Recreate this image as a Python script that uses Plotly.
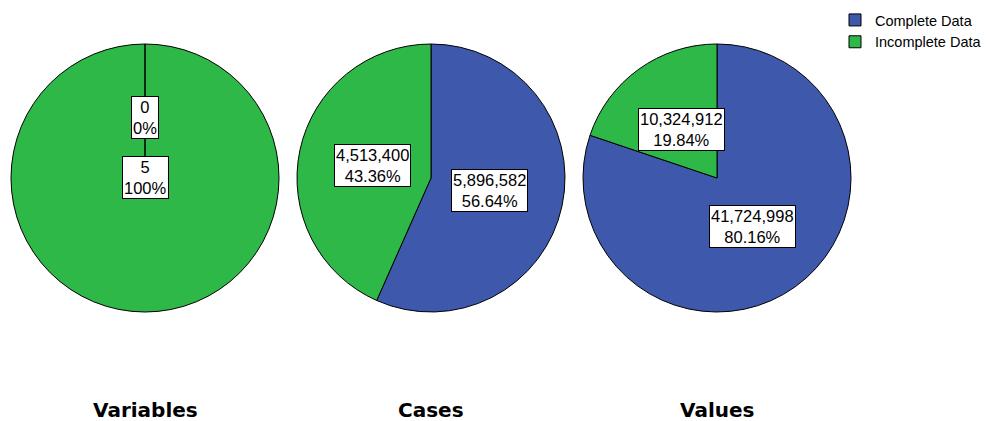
import math
import plotly.graph_objects as go

# ---- data ----
pie_titles = ["Variables", "Cases", "Values"]
categories = ["Complete Data", "Incomplete Data"]
complete_vals = [0, 5896582, 41724998]
incomplete_vals = [5, 4513400, 10324912]

# ---- style ----
W, H = 1001, 421
colors = ["#3E58AC", "#2EB848"]
centers_px = [145, 431, 717]
cy_px = 178
radius_px = 134
label_r = 0.45

fig = go.Figure()

for i, title in enumerate(pie_titles):
    cx = centers_px[i]
    x0, x1 = (cx - radius_px) / W, (cx + radius_px) / W
    y0, y1 = (H - cy_px - radius_px) / H, (H - cy_px + radius_px) / H
    vals = [complete_vals[i], incomplete_vals[i]]
    fig.add_trace(go.Pie(
        labels=categories, values=vals, sort=False, direction="clockwise",
        rotation=0, domain=dict(x=[x0, x1], y=[y0, y1]),
        marker=dict(colors=colors, line=dict(color="black", width=1)),
        textinfo="none", hoverinfo="label+value+percent", showlegend=(i == 0),
    ))
    total = sum(vals)
    start = 0.0
    xc, yc = cx / W, (H - cy_px) / H
    # slice boundary at 12 o'clock for a pie with a zero slice
    if 0 in vals:
        fig.add_shape(type="line", xref="paper", yref="paper",
                      x0=xc, x1=xc, y0=yc, y1=yc + radius_px / H,
                      line=dict(color="black", width=1.5), layer="above")
    for j, v in enumerate(vals):
        frac = v / total
        ang = start + frac * 360 / 2
        start += frac * 360
        if frac >= 0.999:
            dx = dy = 0.0
        else:
            a = math.radians(ang)
            dx = math.sin(a) * radius_px * label_r
            dy = math.cos(a) * radius_px * label_r
        fig.add_annotation(
            x=xc + dx / W, y=yc + dy / H, xref="paper", yref="paper",
            xanchor="center", yanchor="middle",
            text=f"{v:,}<br>{frac*100:.{0 if frac in (0, 1) else 2}f}%",
            showarrow=False, bgcolor="white", bordercolor="black", borderwidth=1,
            borderpad=1, font=dict(family="Liberation Sans, Arial", size=16.5, color="black"),
        )
    fig.add_annotation(
        x=xc, y=(H - 410) / H, xref="paper", yref="paper", text=f"<b>{title}</b>",
        showarrow=False, font=dict(family="DejaVu Sans", size=20, color="black"),
        xanchor="center", yanchor="middle",
    )

fig.update_layout(
    width=W, height=H, margin=dict(l=0, r=0, t=0, b=0),
    paper_bgcolor="white", plot_bgcolor="white",
    legend=dict(x=835 / W, y=1 - 4 / H, xanchor="left", yanchor="top",
                font=dict(family="Liberation Sans, Arial", size=14.5, color="black"),
                itemwidth=30, tracegroupgap=0, bgcolor="rgba(0,0,0,0)"),
)

fig.write_html("out.html")
